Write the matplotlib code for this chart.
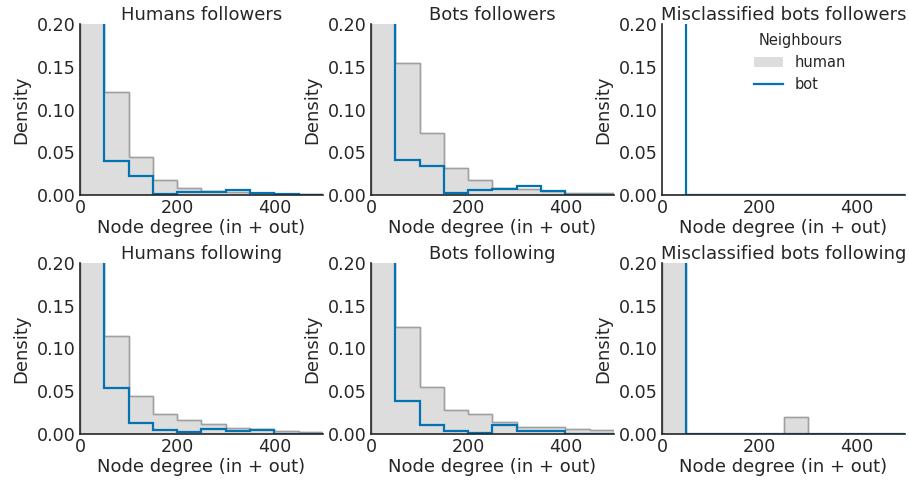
import numpy as np
import matplotlib
matplotlib.use('AGG')
import matplotlib.pyplot as plt
from matplotlib.patches import Patch
from matplotlib.lines import Line2D

# bin edges (width 50) and heights
edges = np.arange(0, 550, 50)

titles = ['Humans followers', 'Bots followers', 'Misclassified bots followers',
          'Humans following', 'Bots following', 'Misclassified bots following']

human_humans_followers = [0.80, 0.120, 0.045, 0.018, 0.008, 0.0043, 0.003, 0.0023, 0.0016, 0.0012]
bot_humans_followers = [0.90, 0.040, 0.0227, 0.0016, 0.004, 0.003, 0.0059, 0.0023, 0.0008, 0.0004]

human_bots_followers = [0.65, 0.154, 0.0723, 0.032, 0.018, 0.0082, 0.007, 0.005, 0.0027, 0.0023]
bot_bots_followers = [0.85, 0.0406, 0.034, 0.0027, 0.0062, 0.007, 0.011, 0.005, 0.0, 0.0]

human_miscl_followers = [0.0, 0.0, 0.0, 0.0, 0.0, 0.0, 0.0, 0.0, 0.0, 0.0]
bot_miscl_followers = [1.0, 0.0, 0.0, 0.0, 0.0, 0.0, 0.0, 0.0, 0.0, 0.0]

human_humans_following = [0.78, 0.115, 0.0445, 0.0234, 0.016, 0.0113, 0.0066, 0.0055, 0.0039, 0.0027]
bot_humans_following = [0.90, 0.0535, 0.0133, 0.0043, 0.002, 0.0062, 0.0039, 0.0047, 0.0, 0.0]

human_bots_following = [0.72, 0.125, 0.055, 0.028, 0.0234, 0.0145, 0.0086, 0.0078, 0.0059, 0.005]
bot_bots_following = [0.92, 0.039, 0.011, 0.0035, 0.0012, 0.010, 0.003, 0.0039, 0.0, 0.0]

human_miscl_following = [0.98, 0.0, 0.0, 0.0, 0.0, 0.0195, 0.0, 0.0, 0.0, 0.0]
bot_miscl_following = [1.0, 0.0, 0.0, 0.0, 0.0, 0.0, 0.0, 0.0, 0.0, 0.0]

humans = [human_humans_followers, human_bots_followers, human_miscl_followers,
          human_humans_following, human_bots_following, human_miscl_following]
bots = [bot_humans_followers, bot_bots_followers, bot_miscl_followers,
        bot_humans_following, bot_bots_following, bot_miscl_following]

dark = '#262626'
plt.rcParams['font.family'] = 'DejaVu Sans'
plt.rcParams['text.color'] = dark
plt.rcParams['axes.labelcolor'] = dark
plt.rcParams['xtick.color'] = dark
plt.rcParams['ytick.color'] = dark

figure = plt.figure(figsize=(9.09, 4.82), dpi=100)

lefts = [0.088, 0.4081, 0.7283]
bottoms = [0.5954, 0.0996]
width = 0.2673
height = 0.3548

for idx in range(6):
    row, col = divmod(idx, 3)
    axis = figure.add_axes([lefts[col], bottoms[row], width, height])

    axis.stairs(humans[idx], edges, fill=True, facecolor='#dddddd',
                edgecolor='#a0a0a0', linewidth=1.0, label='human')
    axis.stairs(humans[idx], edges, fill=False, color='#a0a0a0', linewidth=1.0)
    axis.stairs(bots[idx], edges, baseline=None, color='#0173b2', linewidth=1.6, label='bot')

    axis.set_xlim(0, 500)
    axis.set_ylim(0, 0.2)
    axis.set_xticks([0, 200, 400])
    axis.set_yticks([0.0, 0.05, 0.10, 0.15, 0.20])
    axis.set_yticklabels(['0.00', '0.05', '0.10', '0.15', '0.20'])
    axis.tick_params(length=0, pad=3, labelsize=12.6)
    axis.set_xlabel('Node degree (in + out)', fontsize=13, labelpad=1)
    axis.set_ylabel('Density', fontsize=13, labelpad=5)
    axis.set_title(titles[idx], fontsize=13, pad=3)

    for side in ['top', 'right']:
        axis.spines[side].set_visible(False)
    for side in ['left', 'bottom']:
        axis.spines[side].set_color(dark)
        axis.spines[side].set_linewidth(1.2)

    if idx == 2:
        handles = [Patch(facecolor='#dddddd', edgecolor='none'),
                   Line2D([0], [0], color='#0173b2', linewidth=1.6)]
        axis.legend(handles, ['human', 'bot'], title='Neighbours', frameon=False,
                    loc='upper left', bbox_to_anchor=(0.325, 1.025),
                    fontsize=10.5, title_fontsize=10.5)

figure.savefig('out.png', dpi=100)
